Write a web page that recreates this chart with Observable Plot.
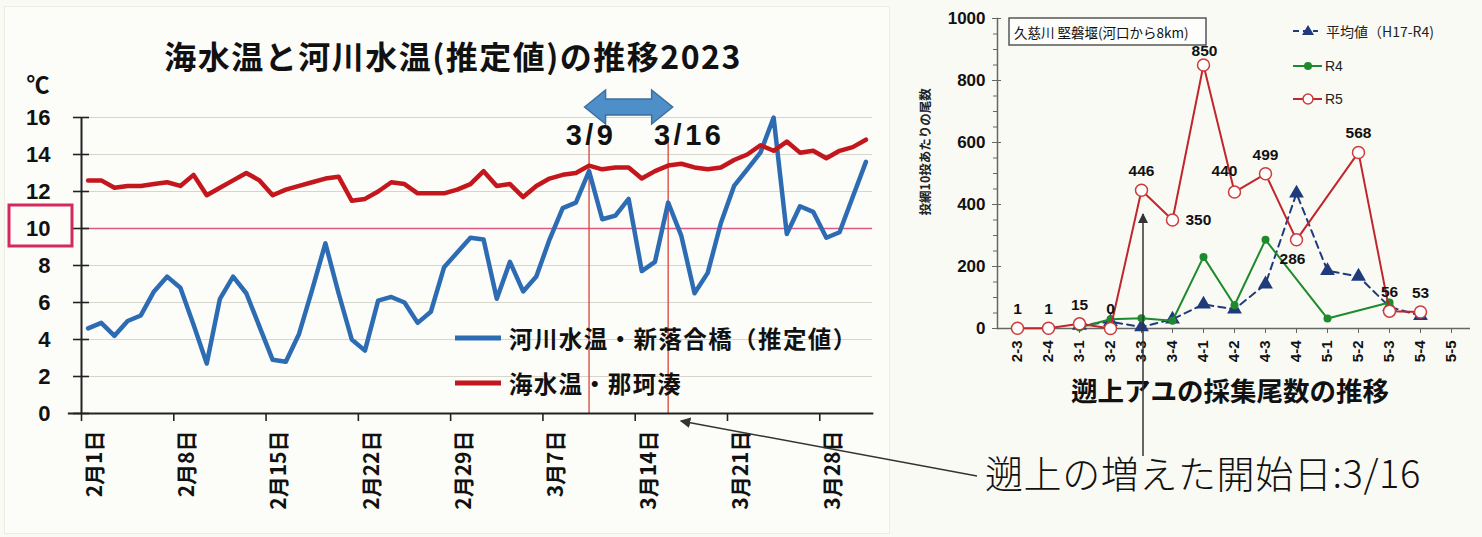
<!DOCTYPE html>
<html><head><meta charset="utf-8">
<script src="https://cdn.jsdelivr.net/npm/d3@7"></script>
<script src="https://cdn.jsdelivr.net/npm/@observablehq/plot@0.6"></script>
<style>
body{margin:0;background:#fafaf5;}
#root{position:relative;width:1482px;height:537px;overflow:hidden;background:#fafaf5;font-family:"Noto Sans CJK JP","Noto Sans",sans-serif;}
#left,#right,#over{position:absolute;top:0;}
#left{left:0;} #right{left:900px;} #over{left:0;pointer-events:none;}
</style></head><body>
<div id="root">
  <div style="position:absolute;left:4px;top:6px;width:884px;height:526px;border:1px solid #ecece4;background:#fcfcf8"></div>
  <div id="left"></div>
  <div id="right"></div>
  <svg id="over" width="1482" height="537"></svg>
</div>
<script>
// ---------- Left chart data (day index 0 = 2月1日, 60 days) ----------
const riverTemp = [4.6,4.9,4.2,5.0,5.3,6.6,7.4,6.8,4.8,2.7,6.2,7.4,6.5,4.7,2.9,2.8,4.3,6.7,9.2,6.5,
  4.0,3.4,6.1,6.3,6.0,4.9,5.5,7.9,8.7,9.5,9.4,6.2,8.2,6.6,7.4,9.4,11.1,11.4,13.1,10.5,
  10.7,11.6,7.7,8.2,11.4,9.6,6.5,7.6,10.3,12.3,13.2,14.1,16.0,9.7,11.2,10.9,9.5,9.8,11.7,13.6];
const seaTemp = [12.6,12.6,12.2,12.3,12.3,12.4,12.5,12.3,12.9,11.8,12.2,12.6,13.0,12.6,11.8,12.1,12.3,12.5,12.7,12.8,
  11.5,11.6,12.0,12.5,12.4,11.9,11.9,11.9,12.1,12.4,13.1,12.3,12.4,11.7,12.3,12.7,12.9,13.0,13.4,13.2,
  13.3,13.3,12.7,13.1,13.4,13.5,13.3,13.2,13.3,13.7,14.0,14.5,14.2,14.7,14.1,14.2,13.8,14.2,14.4,14.8];
const dateLabels = ["2月1日","2月8日","2月15日","2月22日","2月29日","3月7日","3月14日","3月21日","3月28日"];
const dateLabelDay = [0,7,14,21,28,35,42,49,56];
const tempTicks = [0,2,4,6,8,10,12,14,16];
const markDays = [38,44];
const markText = ["3/9","3/16"];
const leftTitle = "海水温と河川水温(推定値)の推移2023";
const riverName = "河川水温・新落合橋（推定値）";
const seaName = "海水温・那珂湊";

// ---------- Right chart data ----------
const stages = ["2-3","2-4","3-1","3-2","3-3","3-4","4-1","4-2","4-3","4-4","5-1","5-2","5-3","5-4","5-5"];
const r5 = [1,1,15,0,446,350,850,440,499,286,null,568,56,53,null];
const r4 = [null,null,3,30,33,25,231,75,286,null,32,null,84,null,null];
const avgH17R4 = [null,null,10,22,5,30,78,62,143,436,186,168,70,41,null];
const countTicks = [0,200,400,600,800,1000];
const rightTitle = "遡上アユの採集尾数の推移";
const rightYLabel = "投網10投あたりの尾数";
const siteLabel = "久慈川 堅磐堰(河口から8km)";
const legendNames = ["平均値（H17-R4)","R4","R5"];
const noteText = "遡上の増えた開始日:3/16";

const JP = "'Noto Sans CJK JP','Noto Sans',sans-serif";
const LAT = "'Liberation Sans','DejaVu Sans',sans-serif";

// ---------- Left plot ----------
const leftPlot = Plot.plot({
  width: 900, height: 537,
  marginLeft: 81, marginRight: 28, marginTop: 117, marginBottom: 124,
  x: {domain: [-0.5, 59.5], axis: null},
  y: {domain: [0, 16], axis: null},
  style: {background: "transparent", overflow: "visible", fontFamily: JP, color: "#111"},
  marks: [
    Plot.gridY(tempTicks.filter(d => d > 0 && d !== 10), {stroke: "#d6d6cc", strokeOpacity: 1, strokeWidth: 1.2}),
    Plot.ruleY([10], {stroke: "#de5a85", strokeWidth: 1.6}),
    Plot.ruleX(markDays, {y1: 0, y2: 14.7, stroke: "#d9443a", strokeWidth: 1.3}),
    Plot.lineY(riverTemp, {x: (d, i) => i, y: d => d, stroke: "#2d6cb3", strokeWidth: 4.5, strokeLinejoin: "round"}),
    Plot.lineY(seaTemp, {x: (d, i) => i, y: d => d, stroke: "#c3161d", strokeWidth: 4.5, strokeLinejoin: "round"}),
    Plot.ruleY([0], {x1: -1.5, x2: 59.6, stroke: "#222", strokeWidth: 2}),
    Plot.axisX({ticks: d3.range(-0.5, 60, 7), tickSize: 8, tickFormat: () => "", stroke: "#222", strokeWidth: 1.6}),
    Plot.text(dateLabels, {x: (d, i) => dateLabelDay[i], frameAnchor: "bottom", lineAnchor: "middle", rotate: -90, textAnchor: "end", dy: 17, dx: 7, fontSize: 21, fontWeight: "bold", fill: "#111"}),
    Plot.ruleX([-0.5], {stroke: "#222", strokeWidth: 2}),
    Plot.axisY({ticks: tempTicks, tickSize: 16, dx: 8, tickPadding: 23, fontSize: 22, fontWeight: "bold", fontFamily: LAT, stroke: "#222", strokeWidth: 1.6, label: null, fill: "#111"}),
    Plot.text([markText[0]], {x: [markDays[0]], frameAnchor: "top", lineAnchor: "middle", dy: 18, dx: 2, fontSize: 29, fontWeight: "bold", fill: "#111", fontFamily: LAT}),
    Plot.text([markText[1]], {x: [markDays[1]], frameAnchor: "top", lineAnchor: "middle", dy: 18, dx: 21, fontSize: 29, fontWeight: "bold", fill: "#111", fontFamily: LAT})
  ]
});
document.getElementById("left").append(leftPlot);
leftPlot.querySelectorAll("text").forEach(t => { if (t.textContent === "3/9" || t.textContent === "3/16") t.setAttribute("letter-spacing", "3.5"); });

// ---------- Right plot ----------
const pts = (arr) => stages.map((s, i) => ({stage: s, v: arr[i]})).filter(d => d.v != null);
const r5Pts = pts(r5), r4Pts = pts(r4), avgPts = pts(avgH17R4);
const special = ["3-4","4-2","4-4","4-1"];
const above = r5Pts.filter(d => !special.includes(d.stage));
const lbl = {fontSize: 15.5, fontWeight: "bold", fill: "#111"};
const rightPlot = Plot.plot({
  width: 582, height: 537,
  marginLeft: 97, marginRight: 12, marginTop: 18, marginBottom: 209,
  x: {type: "point", domain: stages, padding: 0.5, axis: null},
  y: {domain: [0, 1000], axis: null},
  style: {background: "transparent", overflow: "visible", fontFamily: LAT, color: "#111"},
  marks: [
    Plot.axisY({ticks: d3.range(0, 1001, 50), tickSize: 4, tickFormat: () => "", stroke: "#666", label: null}),
    Plot.axisY({ticks: countTicks, tickSize: 9, dx: 4, tickPadding: 7, tickFormat: d => String(d), fontSize: 17, fontWeight: "bold", stroke: "#666", label: null, fill: "#111"}),
    Plot.frame({anchor: "left", stroke: "#666", strokeWidth: 1.5}),
    Plot.ruleY([0], {stroke: "#666", strokeWidth: 1.5}),
    Plot.axisX({tickSize: 5, tickRotate: -90, tickPadding: 7, fontSize: 15, fontWeight: "bold", stroke: "#666", label: null, fill: "#111"}),
    Plot.text([rightYLabel], {frameAnchor: "left", rotate: -90, dx: -72, dy: 42, fontSize: 12.5, fontWeight: "bold", fontFamily: JP, fill: "#222"}),
    Plot.line(avgPts, {x: "stage", y: "v", stroke: "#1f3b7c", strokeWidth: 2, strokeDasharray: "7,5"}),
    Plot.dot(avgPts, {x: "stage", y: "v", symbol: "triangle", r: 5.5, fill: "#1f3b7c"}),
    Plot.line(r4Pts, {x: "stage", y: "v", stroke: "#1e8a2e", strokeWidth: 2}),
    Plot.dot(r4Pts, {x: "stage", y: "v", r: 4, fill: "#1e8a2e"}),
    Plot.line(r5Pts, {x: "stage", y: "v", stroke: "#c0262c", strokeWidth: 2}),
    Plot.dot(r5Pts, {x: "stage", y: "v", r: 6, fill: "white", stroke: "#cf3b3b", strokeWidth: 1.5}),
    Plot.text(above, {x: "stage", y: "v", text: d => String(d.v), dy: -19, ...lbl}),
    Plot.text(r5Pts.filter(d => d.stage === "4-1"), {x: "stage", y: "v", text: d => String(d.v), dx: 1, dy: -14, ...lbl}),
    Plot.text(r5Pts.filter(d => d.stage === "3-4"), {x: "stage", y: "v", text: d => String(d.v), dx: 13, textAnchor: "start", ...lbl}),
    Plot.text(r5Pts.filter(d => d.stage === "4-2"), {x: "stage", y: "v", text: d => String(d.v), dx: -10, dy: -21, ...lbl}),
    Plot.text(r5Pts.filter(d => d.stage === "4-4"), {x: "stage", y: "v", text: d => String(d.v), dx: -4, dy: 19, ...lbl})
  ]
});
document.getElementById("right").append(rightPlot);

// ---------- Overlay annotations ----------
const sx = leftPlot.scale("x");
const rx = rightPlot.scale("x");
const NS = "http://www.w3.org/2000/svg";
const over = document.getElementById("over");
function el(tag, attrs, text) {
  const e = document.createElementNS(NS, tag);
  for (const k in attrs) e.setAttribute(k, attrs[k]);
  if (text != null) e.textContent = text;
  over.appendChild(e);
  return e;
}
// title + unit + highlight box
el("text", {x: 453, y: 55, "text-anchor": "middle", "dominant-baseline": "central", "font-size": 32, "font-weight": "bold", "letter-spacing": 1.5, "font-family": JP, fill: "#111"}, leftTitle);
el("text", {x: 38, y: 83, "text-anchor": "middle", "dominant-baseline": "central", "font-size": 23, "font-weight": "bold", "font-family": JP, fill: "#111"}, "℃");
el("rect", {x: 9, y: 205, width: 63, height: 41, fill: "none", stroke: "#d3295f", "stroke-width": 3});
// double arrow between 3/9 and 3/16
{
  const xa = sx.apply(markDays[0]) - 4, xb = sx.apply(markDays[1]) + 5, cy = 107, hh = 17, sh = 8, hl = 21;
  const p = [[xa,cy],[xa+hl,cy-hh],[xa+hl,cy-sh],[xb-hl,cy-sh],[xb-hl,cy-hh],[xb,cy],[xb-hl,cy+hh],[xb-hl,cy+sh],[xa+hl,cy+sh],[xa+hl,cy+hh]];
  el("polygon", {points: p.map(d => d.join(",")).join(" "), fill: "#4f8fc9", stroke: "#3b6f9f", "stroke-width": 1.5});
}
// left legend
el("line", {x1: 455, y1: 338, x2: 501, y2: 338, stroke: "#2d6cb3", "stroke-width": 5});
el("text", {x: 509, y: 338, "dominant-baseline": "central", "font-size": 23.5, "font-weight": "bold", "letter-spacing": 1.4, "font-family": JP, fill: "#111"}, riverName);
el("line", {x1: 455, y1: 383, x2: 501, y2: 383, stroke: "#c3161d", "stroke-width": 5});
el("text", {x: 509, y: 383, "dominant-baseline": "central", "font-size": 23.5, "font-weight": "bold", "letter-spacing": 1.2, "font-family": JP, fill: "#111"}, seaName);
// right site box
el("rect", {x: 1009, y: 18, width: 197, height: 27, fill: "#fdfdfb", stroke: "#555", "stroke-width": 1.5});
el("text", {x: 1014, y: 32, "dominant-baseline": "central", "font-size": 13.5, "font-family": JP, fill: "#111"}, siteLabel);
// right legend
el("line", {x1: 1293, y1: 31, x2: 1318, y2: 31, stroke: "#1f3b7c", "stroke-width": 2, "stroke-dasharray": "6,4"});
el("polygon", {points: "1308,25 1314,35 1302,35", fill: "#1f3b7c"});
el("text", {x: 1326, y: 31, "dominant-baseline": "central", "font-size": 14, "font-family": JP, fill: "#222"}, legendNames[0]);
el("line", {x1: 1293, y1: 66, x2: 1322, y2: 66, stroke: "#1e8a2e", "stroke-width": 2});
el("circle", {cx: 1308, cy: 66, r: 4, fill: "#1e8a2e"});
el("text", {x: 1325, y: 66, "dominant-baseline": "central", "font-size": 14, "font-family": LAT, fill: "#222"}, legendNames[1]);
el("line", {x1: 1293, y1: 99, x2: 1322, y2: 99, stroke: "#c0262c", "stroke-width": 2});
el("circle", {cx: 1308, cy: 99, r: 5, fill: "white", stroke: "#cf3b3b", "stroke-width": 1.5});
el("text", {x: 1325, y: 99, "dominant-baseline": "central", "font-size": 14, "font-family": LAT, fill: "#222"}, legendNames[2]);
// right title
el("text", {x: 1230, y: 389, "text-anchor": "middle", "dominant-baseline": "central", "font-size": 26.5, "font-weight": "bold", "font-family": JP, fill: "#111"}, rightTitle);
// arrows
el("defs", {}).innerHTML = '<marker id="ah" viewBox="0 0 10 10" refX="9" refY="5" markerWidth="7" markerHeight="7" orient="auto-start-reverse"><path d="M0,0 L10,5 L0,10 z" fill="#333"/></marker>';
const ax = 900 + rx.apply("3-3") + 2;
el("line", {x1: ax, y1: 456, x2: ax, y2: 214, stroke: "#333", "stroke-width": 1.5, "marker-end": "url(#ah)"});
el("line", {x1: 977, y1: 476, x2: sx.apply(45), y2: 421, stroke: "#333", "stroke-width": 1.5, "marker-end": "url(#ah)"});
// note text
el("text", {x: 985, y: 471, "dominant-baseline": "central", "font-size": 38, "font-weight": 300, "letter-spacing": 0.6, "font-family": JP, fill: "#111"}, noteText);
</script>
</body></html>
